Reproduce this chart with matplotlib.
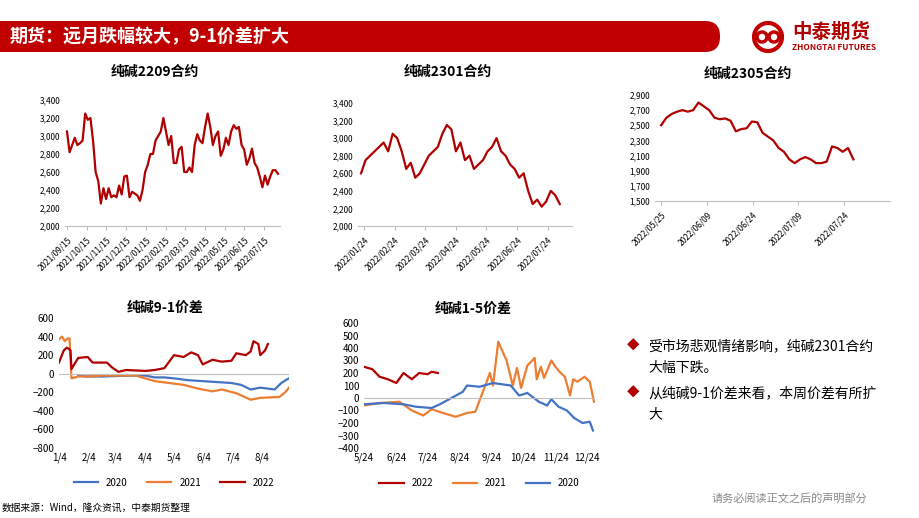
import matplotlib
matplotlib.use("Agg")
import matplotlib.pyplot as plt
from matplotlib.patches import FancyBboxPatch, Circle
import numpy as np

plt.rcParams['font.family'] = ['Noto Sans CJK SC', 'DejaVu Sans']

W, H = 920, 518
RED = '#C00000'
DRED = '#B00000'

# ---------------- data ----------------
c1_ticks = ['2021/09/15','2021/10/15','2021/11/15','2021/12/15','2022/01/15','2022/02/15',
            '2022/03/15','2022/04/15','2022/05/15','2022/06/15','2022/07/15']
c1_vals = [3050,2820,2900,2980,2900,2920,2950,3250,3180,3200,2950,2600,2500,2250,2420,2300,2420,2320,
           2340,2320,2450,2350,2550,2560,2320,2380,2360,2340,2280,2400,2600,2680,2800,2800,2950,3000,
           3050,3200,3050,2900,3000,2700,2700,2850,2880,2600,2600,2650,2600,2900,3020,2950,2920,3100,
           3250,3100,2900,3000,3050,2780,2850,2980,2900,3050,3120,3080,3100,2900,2850,2680,2750,2860,
           2700,2650,2550,2430,2560,2460,2550,2620,2620,2580]

c2_ticks = ['2022/01/24','2022/02/24','2022/03/24','2022/04/24','2022/05/24','2022/06/24','2022/07/24']
c2_vals = [2600,2750,2800,2850,2900,2950,2850,3050,3000,2850,2650,2720,2550,2600,2700,2800,2850,2900,
           3050,3150,3100,2850,2950,2750,2800,2650,2700,2750,2850,2900,3000,2850,2800,2700,2650,2550,
           2600,2400,2250,2300,2220,2280,2400,2350,2250]

c3_ticks = ['2022/05/25','2022/06/09','2022/06/24','2022/07/09','2022/07/24']
c3_vals = [2500,2600,2650,2680,2700,2680,2700,2800,2750,2700,2600,2580,2590,2560,2420,2450,2460,2550,
           2540,2400,2350,2300,2200,2150,2050,2000,2050,2080,2050,2000,2000,2020,2220,2200,2150,2200,2050]

c4_ticks = ['1/4','2/4','3/4','4/4','5/4','6/4','7/4','8/4']
c4_tickpos = [0,31,59,90,120,151,181,212]
c4_2020_x = [20,30,45,60,75,90,100,110,120,135,150,165,180,190,200,210,225,232,238,240]
c4_2020_y = [-20,-30,-30,-25,-20,-20,-40,-40,-50,-70,-80,-90,-100,-120,-170,-150,-170,-100,-60,-50]
c4_2021_x = [0,3,6,9,11,13,20,30,45,60,80,100,115,130,145,160,170,185,200,210,230,236,240]
c4_2021_y = [370,400,350,380,380,-50,-30,-30,-20,-20,-20,-80,-100,-120,-160,-190,-170,-210,-280,-260,-250,-200,-150]
c4_2022_x = [0,3,5,8,10,12,13,20,30,35,50,55,62,70,90,100,110,120,130,138,145,150,160,170,180,185,195,200,203,208,210,215,218]
c4_2022_y = [120,200,250,280,270,250,50,170,180,120,120,70,20,40,30,40,60,200,180,230,200,100,150,130,140,220,200,240,350,320,200,250,320]

c5_ticks = ['5/24','6/24','7/24','8/24','9/24','10/24','11/24','12/24']
c5_tickpos = [0,31,61,92,123,153,184,214]
c5_2022_x = [0,8,15,23,31,38,46,53,61,65,71]
c5_2022_y = [250,230,170,150,120,200,150,200,190,210,200]
c5_2021_x = [0,15,34,46,57,65,76,88,99,107,121,124,129,137,143,147,151,157,164,166,170,173,180,184,189,193,198,201,205,212,217,221]
c5_2021_y = [-60,-40,-30,-100,-140,-90,-120,-150,-120,-110,200,100,450,300,100,240,80,260,320,150,250,160,300,250,200,170,20,150,130,170,130,-30]
c5_2020_x = [0,19,38,50,65,73,84,95,99,111,124,141,149,157,168,176,180,187,195,202,210,217,220]
c5_2020_y = [-50,-40,-50,-70,-80,-50,0,50,100,90,120,100,20,40,-30,-60,-10,-70,-100,-160,-200,-190,-260]

bullets = ['受市场悲观情绪影响，纯碱2301合约\n大幅下跌。', '从纯碱9-1价差来看，本周价差有所扩\n大']

# ---------------- figure ----------------
fig = plt.figure(figsize=(W/100, H/100), dpi=100)
fig.patch.set_facecolor('white')

def ax_px(x0, y0, x1, y1):
    return fig.add_axes([x0/W, 1-y1/H, (x1-x0)/W, (y1-y0)/H])

hdr = fig.add_axes([0, 0, 1, 1]); hdr.set_xlim(0, W); hdr.set_ylim(H, 0); hdr.axis('off')
hdr.add_patch(FancyBboxPatch((-20, 21), 740, 31, boxstyle="round,pad=0,rounding_size=15",
                             facecolor=RED, edgecolor='none'))
hdr.text(10, 37, '期货：远月跌幅较大，9-1价差扩大', color='white', fontsize=13, fontweight='bold', va='center')
hdr.add_patch(Circle((768, 37), 14, facecolor='none', edgecolor=RED, lw=3))
hdr.add_patch(Circle((762, 37), 5, facecolor='none', edgecolor=RED, lw=2.5))
hdr.add_patch(Circle((774, 37), 5, facecolor='none', edgecolor=RED, lw=2.5))
hdr.text(792, 32, '中泰期货', color=DRED, fontsize=14, fontweight='bold', va='center')
hdr.text(792, 47, 'ZHONGTAI FUTURES', color=DRED, fontsize=6, fontweight='bold', va='center')
hdr.text(2, 508, '数据来源：Wind，隆众资讯，中泰期货整理', fontsize=7, va='center')
hdr.text(712, 498, '请务必阅读正文之后的声明部分', fontsize=8, color='#888888', va='center')
for t, yy in zip(bullets, [346, 393]):
    hdr.text(627, yy, '◆', color=DRED, fontsize=9, va='center')
    hdr.text(648, yy - 7, t, fontsize=10, va='top', linespacing=1.7)

def style(ax):
    for s in ['top', 'right', 'left']:
        ax.spines[s].set_visible(False)
    ax.spines['bottom'].set_color('#BFBFBF')
    ax.tick_params(axis='y', length=0, labelsize=6)
    ax.tick_params(axis='x', labelsize=6, color='#BFBFBF', length=3)

def title(x, y, t):
    fig.text(x/W, 1-y/H, t, fontsize=10, fontweight='bold', ha='center', va='center')

ax = ax_px(65, 100, 280, 226)
x = np.linspace(0, 10.7, len(c1_vals))
ax.plot(x, c1_vals, color=DRED, lw=1.6)
ax.set_ylim(2000, 3400); ax.set_yticks(range(2000, 3401, 200))
ax.set_yticklabels([f'{v:,}' for v in range(2000, 3401, 200)])
ax.set_xlim(-0.1, 10.8); ax.set_xticks(range(len(c1_ticks))); ax.set_xticklabels(c1_ticks, rotation=45, ha='right', rotation_mode='anchor')
style(ax)
title(155, 72, '纯碱2209合约')

ax = ax_px(358, 103, 572, 226)
x = np.linspace(-0.1, 6.4, len(c2_vals))
ax.plot(x, c2_vals, color=DRED, lw=1.6)
ax.set_ylim(2000, 3400); ax.set_yticks(range(2000, 3401, 200))
ax.set_yticklabels([f'{v:,}' for v in range(2000, 3401, 200)])
ax.set_xlim(-0.2, 6.8); ax.set_xticks(range(len(c2_ticks))); ax.set_xticklabels(c2_ticks, rotation=45, ha='right', rotation_mode='anchor')
style(ax)
title(448, 72, '纯碱2301合约')

ax = ax_px(655, 95, 890, 201)
x = np.linspace(0, 63, len(c3_vals))
ax.plot(x, c3_vals, color=DRED, lw=1.6)
ax.set_ylim(1500, 2900); ax.set_yticks(range(1500, 2901, 200))
ax.set_yticklabels([f'{v:,}' for v in range(1500, 2901, 200)])
ax.set_xlim(-2, 75); ax.set_xticks([0, 15, 30, 45, 60]); ax.set_xticklabels(c3_ticks, rotation=45, ha='right', rotation_mode='anchor')
style(ax)
title(748, 74, '纯碱2305合约')

def style2(ax):
    for s in ax.spines.values():
        s.set_visible(False)
    ax.axhline(0, color='#BFBFBF', lw=0.8)
    ax.tick_params(axis='both', length=0, labelsize=7)

BLUE = '#4472C4'; ORANGE = '#ED7D31'

ax = ax_px(59, 318, 289, 448)
ax.plot(c4_2020_x, c4_2020_y, color=BLUE, lw=1.6, label='2020')
ax.plot(c4_2021_x, c4_2021_y, color=ORANGE, lw=1.6, label='2021')
ax.plot(c4_2022_x, c4_2022_y, color=DRED, lw=1.6, label='2022')
ax.set_ylim(-800, 600); ax.set_yticks(range(-800, 601, 200))
ax.set_xlim(0, 240); ax.set_xticks(c4_tickpos); ax.set_xticklabels(c4_ticks)
style2(ax)
ax.legend(loc='upper center', bbox_to_anchor=(0.5, -0.16), ncol=3, frameon=False, fontsize=7, handlelength=2.5)
title(165, 308, '纯碱9-1价差')

ax = ax_px(364, 323, 595, 448)
ax.plot(c5_2022_x, c5_2022_y, color=DRED, lw=1.6, label='2022')
ax.plot(c5_2021_x, c5_2021_y, color=ORANGE, lw=1.6, label='2021')
ax.plot(c5_2020_x, c5_2020_y, color=BLUE, lw=1.6, label='2020')
ax.set_ylim(-400, 600); ax.set_yticks(range(-400, 601, 100))
ax.set_xlim(0, 222); ax.set_xticks(c5_tickpos); ax.set_xticklabels(c5_ticks)
style2(ax)
ax.legend(loc='upper center', bbox_to_anchor=(0.5, -0.17), ncol=3, frameon=False, fontsize=7, handlelength=2.5)
title(473, 309, '纯碱1-5价差')

fig.savefig('out.png', dpi=100)
